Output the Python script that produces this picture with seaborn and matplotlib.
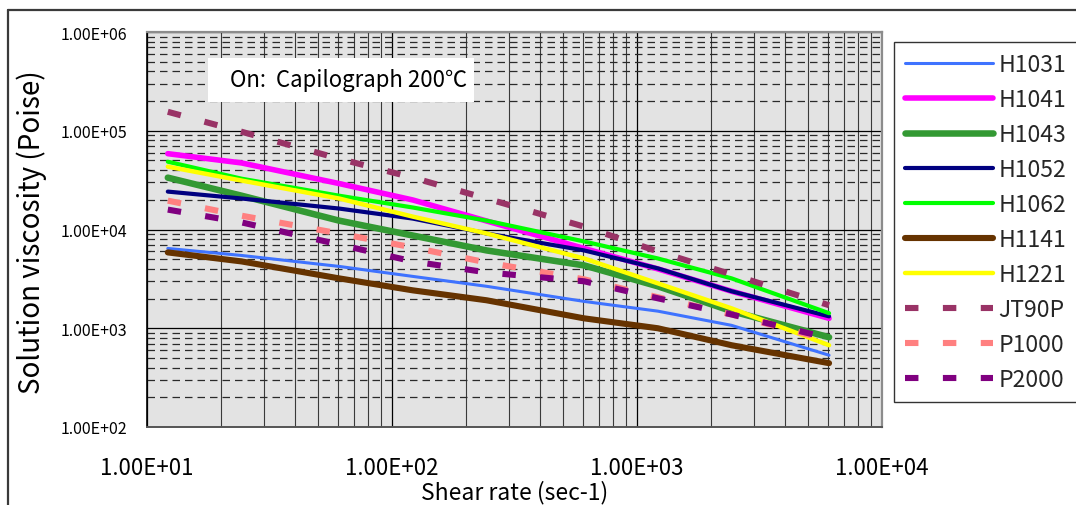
import matplotlib
matplotlib.use("Agg")
import matplotlib.pyplot as plt
import matplotlib.ticker as mticker
from matplotlib.lines import Line2D
from matplotlib.patches import Rectangle
import pandas as pd
import seaborn as sns

# Capilograph shear rates (1/s)
shear_rate = [12.16, 24.32, 60.8, 121.6, 243.2, 608, 1216, 2432, 6080]

# Melt viscosity (Poise) for each grade
h1031 = [6430, 5460, 4230, 3350, 2660, 1870, 1490, 1070, 533]
h1041 = [58600, 47200, 29200, 19900, 12200, 6430, 3990, 2370, 1260]
h1043 = [33500, 22000, 12300, 8690, 6140, 4330, 2660, 1490, 811]
h1052 = [24200, 20600, 16300, 12900, 9120, 6140, 4040, 2370, 1320]
h1062 = [48600, 32700, 22000, 16700, 12300, 7570, 5090, 3200, 1420]
h1141 = [5860, 4750, 3200, 2420, 1920, 1260, 1000, 673, 443]
h1221 = [43300, 31300, 20600, 13500, 9120, 5090, 2850, 1590, 673]
jt90p = [155600, 97700, 52100, 33500, 20600, 10700, 6000, 3510, 1710]
p1000 = [19600, 13800, 9120, 6580, 4640, 3130, 2060, 1380, 757]
p2000 = [15900, 11800, 7050, 4750, 3680, 2990, 2010, 1380, 792]

grades = ["H1031", "H1041", "H1043", "H1052", "H1062", "H1141", "H1221",
          "JT90P", "P1000", "P2000"]
series = [h1031, h1041, h1043, h1052, h1062, h1141, h1221, jt90p, p1000, p2000]

x_ticks = [10, 100, 1000, 10000]
y_ticks = [100, 1000, 10000, 100000, 1000000]

rows = []
for g, vals in zip(grades, series):
    for x, v in zip(shear_rate, vals):
        rows.append({"grade": g, "shear": x, "visc": v})
df = pd.DataFrame(rows)

styles = {
    "H1031": dict(color="#3F73FF", lw=2.2, dashed=False),
    "H1041": dict(color="#FF00FF", lw=4.0, dashed=False),
    "H1043": dict(color="#339933", lw=4.7, dashed=False),
    "H1052": dict(color="#000080", lw=3.0, dashed=False),
    "H1062": dict(color="#00FF00", lw=3.0, dashed=False),
    "H1141": dict(color="#663300", lw=4.4, dashed=False),
    "H1221": dict(color="#FFFF00", lw=3.2, dashed=False),
    "JT90P": dict(color="#993366", lw=4.4, dashed=True),
    "P1000": dict(color="#FF8080", lw=4.4, dashed=True),
    "P2000": dict(color="#800080", lw=4.4, dashed=True),
}

sns.set_theme(style="white")
plt.rcParams["font.family"] = ["Noto Sans CJK JP", "DejaVu Sans"]

W, H = 1076, 506
fig = plt.figure(figsize=(W / 100, H / 100), dpi=100)
fig.patch.set_facecolor("white")
ax = fig.add_axes([147 / W, 1 - 428 / H, 735 / W, 395 / H])
ax.set_facecolor("#E3E3E3")
ax.set_xscale("log")
ax.set_yscale("log")
ax.set_xlim(10, 10000)
ax.set_ylim(100, 1000000)

for g in grades:
    st = styles[g]
    sub = df[df["grade"] == g]
    kw = dict(color=st["color"], linewidth=st["lw"], label=g)
    if st["dashed"]:
        kw.update(linestyle=(0, (2.2, 4.0)), dash_capstyle="butt")
    else:
        kw.update(solid_capstyle="round", solid_joinstyle="round")
    sns.lineplot(data=sub, x="shear", y="visc", ax=ax, errorbar=None,
                 legend=False, **kw)

# grid
ax.set_axisbelow(True)
ax.xaxis.set_major_locator(mticker.FixedLocator(x_ticks))
ax.yaxis.set_major_locator(mticker.FixedLocator(y_ticks))
ax.xaxis.set_minor_locator(mticker.LogLocator(base=10, subs=range(2, 10), numticks=20))
ax.yaxis.set_minor_locator(mticker.LogLocator(base=10, subs=range(2, 10), numticks=20))
ax.xaxis.set_minor_formatter(mticker.NullFormatter())
ax.yaxis.set_minor_formatter(mticker.NullFormatter())
fmt = mticker.FuncFormatter(lambda v, p: f"{v:.2E}")
ax.xaxis.set_major_formatter(fmt)
ax.yaxis.set_major_formatter(fmt)
ax.grid(True, which="major", color="black", linewidth=0.9, linestyle="-")
ax.xaxis.grid(True, which="minor", color="#3a3a3a", linewidth=0.8, linestyle="-")
ax.yaxis.grid(True, which="minor", color="#2a2a2a", linewidth=0.9,
              linestyle=(0, (6, 4)))

ax.tick_params(axis="both", which="both", length=0)
ax.tick_params(axis="x", which="major", labelsize=16, pad=21, labelcolor="black")
ax.tick_params(axis="y", which="major", labelsize=11.5, pad=14, labelcolor="black")

for side in ["top", "right"]:
    ax.spines[side].set_color("#8c8c8c")
    ax.spines[side].set_linewidth(1.6)
ax.spines["left"].set_color("black")
ax.spines["left"].set_linewidth(1.2)
ax.spines["bottom"].set_color("#555555")
ax.spines["bottom"].set_linewidth(1.4)

ax.set_xlabel("Shear rate (sec-1)", fontsize=16.5, color="black")
ax.set_ylabel("Solution viscosity (Poise)", fontsize=20, color="black")
ax.xaxis.set_label_coords(0.5, (428 - 493) / 395)
ax.xaxis.label.set_va("center")
ax.yaxis.set_label_coords((32 - 147) / 735, (428 - 232) / 395)
ax.yaxis.label.set_va("center")

# note box
ax.add_patch(Rectangle((208 / W, 1 - 103 / H), 266 / W, 44 / H,
                       transform=fig.transFigure, facecolor="white",
                       edgecolor="none", zorder=3))
ax.text(230 / W, 1 - 81 / H, "On:  Capilograph 200℃", transform=fig.transFigure,
        fontsize=16, va="center", ha="left", color="black", zorder=4)

# legend
handles = []
for g in grades:
    st = styles[g]
    if st["dashed"]:
        h = Line2D([], [], color=st["color"], linewidth=st["lw"],
                   linestyle=(0, (2.2, 4.0)), dash_capstyle="butt")
    else:
        h = Line2D([], [], color=st["color"], linewidth=st["lw"],
                   solid_capstyle="round")
    handles.append(h)
leg = fig.legend(handles, grades, loc="upper left",
                 bbox_to_anchor=(894 / W, 1 - 43 / H), bbox_transform=fig.transFigure,
                 borderaxespad=0, frameon=True, fancybox=False, fontsize=16.5,
                 handlelength=3.8, handletextpad=0.25, labelspacing=0.52,
                 borderpad=0.5)
leg.get_frame().set_edgecolor("black")
leg.get_frame().set_linewidth(1.0)

# chart border
fig.add_artist(Line2D([8 / W, 1.0], [1 - 11 / H, 1 - 11 / H], transform=fig.transFigure,
                      color="#3a3a3a", linewidth=1.6))
fig.add_artist(Line2D([8 / W, 8 / W], [0.0, 1 - 11 / H], transform=fig.transFigure,
                      color="#3a3a3a", linewidth=1.6))

fig.savefig("out.png", dpi=100)
